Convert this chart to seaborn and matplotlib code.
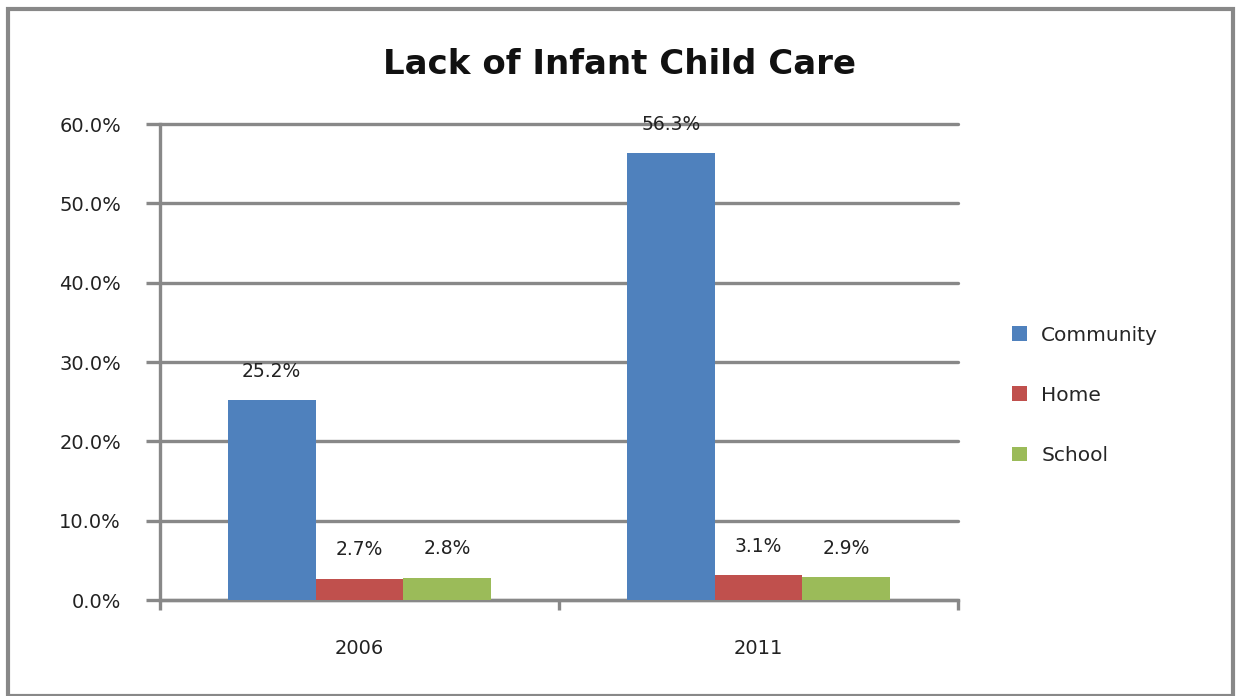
import pandas as pd
import matplotlib.pyplot as plt
import seaborn as sns
from matplotlib.patches import Rectangle
from matplotlib.ticker import FixedLocator, FuncFormatter

years = ["2006", "2011"]
areas = ["Community", "Home", "School"]
community = [25.2, 56.3]
home = [2.7, 3.1]
school = [2.8, 2.9]
colors = ["#4F81BD", "#C0504D", "#9BBB59"]

df = pd.DataFrame({
    "year": years * 3,
    "area": [a for a in areas for _ in years],
    "value": community + home + school,
})

sns.set_theme(style="white")
plt.rcParams["font.family"] = ["DejaVu Sans"]

fig = plt.figure(figsize=(12.37, 6.96), dpi=100)
ax = fig.add_axes([160 / 1237, 1 - 600 / 696, 798 / 1237, 476 / 696])

sns.barplot(data=df, x="year", y="value", hue="area", palette=colors,
            width=0.66, gap=0, saturation=1, ax=ax, zorder=3,
            edgecolor="none", linewidth=0)

# value labels above the bars
for cont in ax.containers:
    ax.bar_label(cont, fmt="%.1f%%", padding=14, fontsize=13.5, color="#222222")

grid_c = "#888888"
ax.set_ylim(0, 60)
ax.set_xlim(-0.5, 1.5)
ax.set_yticks(range(0, 61, 10))
ax.yaxis.set_major_formatter(FuncFormatter(lambda v, p: f"{v:.1f}%"))
ax.yaxis.grid(True, color=grid_c, linewidth=2.4, clip_on=False)
ax.set_axisbelow(True)
ax.tick_params(axis="y", left=True, length=10, width=2.4, color=grid_c,
               labelsize=14, pad=18, labelcolor="#222222")
ax.tick_params(axis="x", which="major", length=0, labelsize=14, pad=28,
               labelcolor="#222222")
# tick marks between the categories, like Excel
ax.xaxis.set_minor_locator(FixedLocator([-0.5, 0.5, 1.5]))
ax.tick_params(axis="x", which="minor", bottom=True, length=7, width=2.4, color=grid_c)
for s in ["top", "right"]:
    ax.spines[s].set_visible(False)
for s in ["left", "bottom"]:
    ax.spines[s].set_color(grid_c)
    ax.spines[s].set_linewidth(2.4)
ax.set_xlabel("")
ax.set_ylabel("")

ax.legend(loc="center left", bbox_to_anchor=(1.045, 0.43), frameon=False,
          fontsize=14.5, handlelength=0.75, handleheight=0.75, labelspacing=2.05,
          handletextpad=0.7)

fig.text(0.501, 0.908, "Lack of Infant Child Care", ha="center", va="center",
         fontsize=24.5, fontweight="bold", color="#111111")

# outer chart border
fig.patches.append(Rectangle((8 / 1237, 0), 1 - 12 / 1237, 1 - 9 / 696,
                             transform=fig.transFigure, fill=False,
                             edgecolor="#888888", linewidth=3))

fig.savefig("out.png", dpi=100)
